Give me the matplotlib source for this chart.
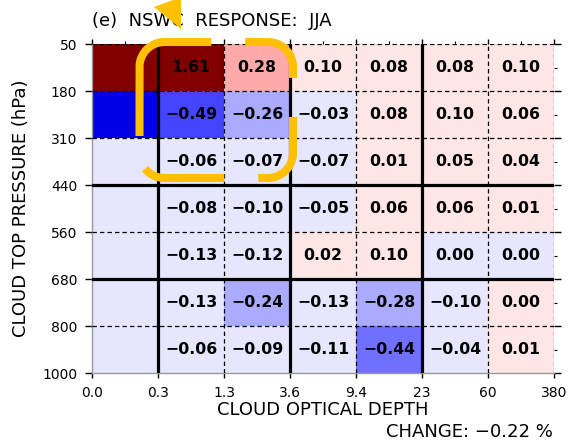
import numpy as np
import matplotlib
matplotlib.use("Agg")
import matplotlib.pyplot as plt
from matplotlib.colors import ListedColormap, BoundaryNorm
from matplotlib.patches import Polygon
from matplotlib.lines import Line2D

# ---------------- data ----------------
tau_labels = ["0.0", "0.3", "1.3", "3.6", "9.4", "23", "60", "380"]
p_labels = ["50", "180", "310", "440", "560", "680", "800", "1000"]

# rows: top (50-180 hPa) to bottom (800-1000 hPa); columns: tau bins 0.0-0.3 ... 60-380
row_50_180 = [1.90, 1.61, 0.28, 0.10, 0.08, 0.08, 0.10]
row_180_310 = [-0.90, -0.49, -0.26, -0.03, 0.08, 0.10, 0.06]
row_310_440 = [-0.05, -0.06, -0.07, -0.07, 0.01, 0.05, 0.04]
row_440_560 = [-0.05, -0.08, -0.10, -0.05, 0.06, 0.06, 0.01]
row_560_680 = [-0.05, -0.13, -0.12, 0.02, 0.10, -0.004, -0.003]
row_680_800 = [-0.05, -0.13, -0.24, -0.13, -0.28, -0.10, 0.004]
row_800_1000 = [-0.05, -0.06, -0.09, -0.11, -0.44, -0.04, 0.01]
total_change = -0.22

levels = [-10, -0.75, -0.6, -0.45, -0.3, -0.15, 0, 0.15, 0.3, 0.45, 0.6, 0.75, 1.0, 10]
level_colors = ["#0000E6", "#2020FF", "#4444FF", "#7070FF", "#AAAAFF", "#E6E6FF",
                "#FFE6E6", "#FFAAAA", "#FF7070", "#FF4444", "#FF2020", "#E60000", "#800000"]

vals = np.array([row_50_180, row_180_310, row_310_440, row_440_560,
                 row_560_680, row_680_800, row_800_1000])

# ---------------- figure ----------------
W, H = 571, 440
fig = plt.figure(figsize=(W / 100, H / 100), dpi=100)
ax = fig.add_axes([92 / W, 1 - 373 / H, (554 - 92) / W, (373 - 44) / H])

cmap = ListedColormap(level_colors)
norm = BoundaryNorm(levels, cmap.N)
nx = len(tau_labels)
ny = len(p_labels)
ax.pcolormesh(np.arange(nx), np.arange(ny), vals, cmap=cmap, norm=norm, shading="flat")
ax.set_xlim(0, nx - 1)
ax.set_ylim(ny - 1, 0)

# grid lines
thick_x = [1, 3, 5]
thick_y = [3, 5]
for i in range(1, nx):
    if i in thick_x:
        ax.axvline(i, color="black", lw=2.3, zorder=3)
    else:
        ax.axvline(i, color="black", lw=0.9, ls=(0, (3.5, 2.5)), zorder=3)
for j in range(0, ny - 1):
    if j in thick_y:
        ax.axhline(j, color="black", lw=2.3, zorder=3)
    else:
        ax.axhline(j, color="black", lw=0.9, ls=(0, (3.5, 2.5)), zorder=3)

# cell labels (first column not labelled)
for r in range(vals.shape[0]):
    for c in range(1, vals.shape[1]):
        v = vals[r, c]
        if round(v, 2) == 0:
            s = "0.00"
        else:
            s = f"{v:.2f}".replace("-", "\u2212")
        ax.text(c + 0.5, r + 0.5, s, ha="center", va="center",
                fontsize=11.3, fontweight="bold", color="black", zorder=4)

# ticks
ax.set_xticks(range(nx))
ax.set_xticklabels(tau_labels)
ax.set_yticks(range(ny))
ax.set_yticklabels(p_labels)
ax.set_xticks(np.arange(0.5, nx - 1), minor=True)
ax.set_yticks(np.arange(0.5, ny - 1), minor=True)
ax.tick_params(axis="y", which="major", direction="out", length=5, width=1,
               left=True, right=True, labelsize=10, pad=5.5)
ax.tick_params(axis="x", which="major", direction="out", length=3.6, width=1,
               bottom=True, top=True, labelsize=10, pad=5.5)
ax.tick_params(which="minor", direction="out", length=2.5, width=0.8,
               bottom=False, left=False, top=True, right=True)

for side in ["top", "right"]:
    ax.spines[side].set_visible(False)
for side in ["left", "bottom"]:
    ax.spines[side].set_color("#999999")
    ax.spines[side].set_linewidth(1)

# texts
fig.text(92 / W, 1 - 21.5 / H, "(e)  NSWC  RESPONSE:  JJA", ha="left", va="center", fontsize=13)
fig.text(323 / W, 1 - 410 / H, "CLOUD OPTICAL DEPTH", ha="center", va="center", fontsize=13)
fig.text(21 / W, 1 - 208 / H, "CLOUD TOP PRESSURE (hPa)", ha="center", va="center",
         rotation=90, fontsize=13)
fig.text(553 / W, 1 - 431.5 / H, "CHANGE: " + f"{total_change:.2f}".replace("-", "\u2212") + " %",
         ha="right", va="center", fontsize=13)

# ---------------- orange annotation overlay ----------------
orange = "#FFC000"
x0, x1, yt, yb, rad = 139.5, 293.0, 42.0, 178.0, 25.0

def rr_path():
    pts = []
    pts += [(x0, y) for y in np.linspace(136, yt + rad, 30)]
    th = np.linspace(np.pi, 1.5 * np.pi, 30)
    pts += [(x0 + rad + rad * np.cos(t), yt + rad + rad * np.sin(t)) for t in th]
    pts += [(x, yt) for x in np.linspace(x0 + rad, x1 - rad, 60)]
    th = np.linspace(1.5 * np.pi, 2 * np.pi, 30)
    pts += [(x1 - rad + rad * np.cos(t), yt + rad + rad * np.sin(t)) for t in th]
    pts += [(x1, y) for y in np.linspace(yt + rad, yb - rad, 60)]
    th = np.linspace(0, 0.5 * np.pi, 30)
    pts += [(x1 - rad + rad * np.cos(t), yb - rad + rad * np.sin(t)) for t in th]
    pts += [(x, yb) for x in np.linspace(x1 - rad, x0 + rad, 60)]
    th = np.linspace(0.5 * np.pi, np.pi, 30)
    pts += [(x0 + rad + rad * np.cos(t), yb - rad + rad * np.sin(t)) for t in th]
    pts += [(x0, y) for y in np.linspace(yb - rad, 136, 20)]
    pts = np.array(pts)
    d = np.r_[0, np.cumsum(np.hypot(*np.diff(pts, axis=0).T))]
    return pts, d

pts, dist = rr_path()
on_ranges = [(0, 155), (189, 262), (301, 386), (420, 502)]
for a, b in on_ranges:
    s = np.linspace(a, b, 200)
    xs = np.interp(s, dist, pts[:, 0])
    ys = np.interp(s, dist, pts[:, 1])
    fig.add_artist(Line2D(xs / W, 1 - ys / H, transform=fig.transFigure,
                          color=orange, lw=5.8, solid_capstyle="butt", zorder=10))

tri = np.array([(154, 7), (181, -3), (181, 29)], dtype=float)
fig.add_artist(Polygon(np.c_[tri[:, 0] / W, 1 - tri[:, 1] / H], closed=True,
                       transform=fig.transFigure, facecolor=orange, edgecolor="none", zorder=10))

fig.savefig("out.png", dpi=100)
